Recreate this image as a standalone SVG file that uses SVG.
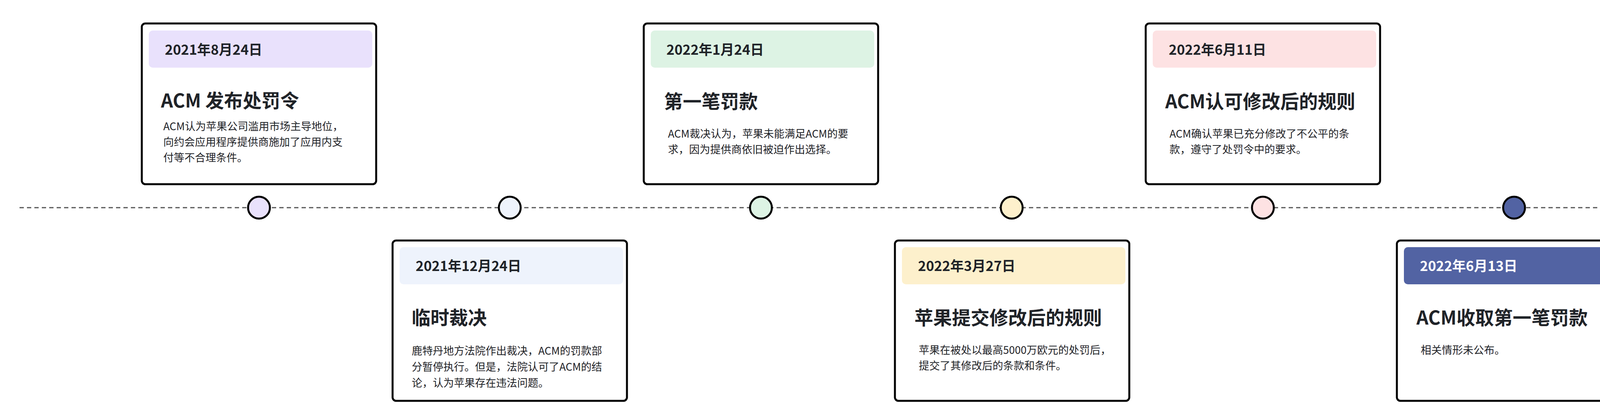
<svg xmlns="http://www.w3.org/2000/svg" width="5060" height="1074" viewBox="0 0 5060 1074">
<style>
.card{fill:#fff;stroke:#000;stroke-width:5}
.dot{stroke:#000;stroke-width:5}
.date{font-family:"Noto Sans CJK SC","Noto Sans",sans-serif;font-weight:700;font-size:35px;fill:#1F2328}
.title{font-family:"Noto Sans CJK SC","Noto Sans",sans-serif;font-weight:700;font-size:48px;fill:#1F2328}
.body{font-family:"Noto Sans CJK SC","Noto Sans",sans-serif;font-size:27px;fill:#1F2328}
</style>
<rect width="5060" height="1074" fill="#fff"/>
<g id="connectors">
<line x1="50" y1="531" x2="5004" y2="531" stroke="#555" stroke-width="3" stroke-dasharray="11 8"/>
</g>
<g id="n1">
<rect class="card" x="363" y="60" width="600" height="411" rx="9"/>
<rect x="381" y="78" width="572" height="95" rx="10" fill="#E9E1FC"/>
<text class="date" x="422" y="140">2021年8月24日</text>
<text class="title" x="412" y="275">ACM 发布处罚令</text>
<text class="body" x="418" y="333">ACM认为苹果公司滥用市场主导地位，</text>
<text class="body" x="418" y="373">向约会应用程序提供商施加了应用内支</text>
<text class="body" x="418" y="413">付等不合理条件。</text>
<circle class="dot" cx="663" cy="531" r="28" fill="#E9E1FC"/>
</g>
<g id="n2">
<rect class="card" x="1005" y="615" width="600" height="410" rx="9"/>
<rect x="1023" y="632" width="572" height="95" rx="10" fill="#EEF3FC"/>
<text class="date" x="1064" y="693">2021年12月24日</text>
<text class="title" x="1054" y="830">临时裁决</text>
<text class="body" x="1054" y="907">鹿特丹地方法院作出裁决，ACM的罚款部</text>
<text class="body" x="1054" y="948">分暂停执行。但是，法院认可了ACM的结</text>
<text class="body" x="1054" y="989">论，认为苹果存在违法问题。</text>
<circle class="dot" cx="1305" cy="531" r="28" fill="#EEF3FC"/>
</g>
<g id="n3">
<rect class="card" x="1648" y="60" width="600" height="411" rx="9"/>
<rect x="1666" y="78" width="572" height="95" rx="10" fill="#DDF3E4"/>
<text class="date" x="1706" y="140">2022年1月24日</text>
<text class="title" x="1700" y="277">第一笔罚款</text>
<text class="body" x="1710" y="352">ACM裁决认为，苹果未能满足ACM的要</text>
<text class="body" x="1710" y="392">求，因为提供商依旧被迫作出选择。</text>
<circle class="dot" cx="1948" cy="531" r="28" fill="#DDF3E4"/>
</g>
<g id="n4">
<rect class="card" x="2291" y="615" width="600" height="410" rx="9"/>
<rect x="2309" y="632" width="572" height="95" rx="10" fill="#FDF0CC"/>
<text class="date" x="2350" y="693">2022年3月27日</text>
<text class="title" x="2341" y="830">苹果提交修改后的规则</text>
<text class="body" x="2352" y="905">苹果在被处以最高5000万欧元的处罚后，</text>
<text class="body" x="2352" y="945">提交了其修改后的条款和条件。</text>
<circle class="dot" cx="2590" cy="531" r="28" fill="#FDF0CC"/>
</g>
<g id="n5">
<rect class="card" x="2933" y="60" width="600" height="411" rx="9"/>
<rect x="2951" y="78" width="572" height="95" rx="10" fill="#FDE2E3"/>
<text class="date" x="2992" y="140">2022年6月11日</text>
<text class="title" x="2983" y="277">ACM认可修改后的规则</text>
<text class="body" x="2994" y="352">ACM确认苹果已充分修改了不公平的条</text>
<text class="body" x="2994" y="392">款，遵守了处罚令中的要求。</text>
<circle class="dot" cx="3233" cy="531" r="28" fill="#FDE2E3"/>
</g>
<g id="n6">
<rect class="card" x="3576" y="615" width="600" height="410" rx="9"/>
<rect x="3594" y="632" width="572" height="95" rx="10" fill="#5263A3"/>
<text class="date" x="3635" y="693" style="fill:#fff">2022年6月13日</text>
<text class="title" x="3626" y="830">ACM收取第一笔罚款</text>
<text class="body" x="3637" y="905">相关情形未公布。</text>
<circle class="dot" cx="3876" cy="531" r="28" fill="#5263A3"/>
</g>
<g id="n7">
<rect class="card" x="4218" y="49" width="600" height="409" rx="9"/>
<rect x="4236" y="65" width="568" height="96" rx="10" fill="#BCBFC4"/>
<text class="date" x="4276" y="128">2023 年 7 月 13 日</text>
<text class="title" x="4268" y="264">ACM发布异议决定</text>
<text class="body" x="4279" y="339">ACM对苹果提出的异议作出驳回决定。</text>
<circle class="dot" cx="4518" cy="531" r="28" fill="#BCBFC4"/>
</g>
</svg>
